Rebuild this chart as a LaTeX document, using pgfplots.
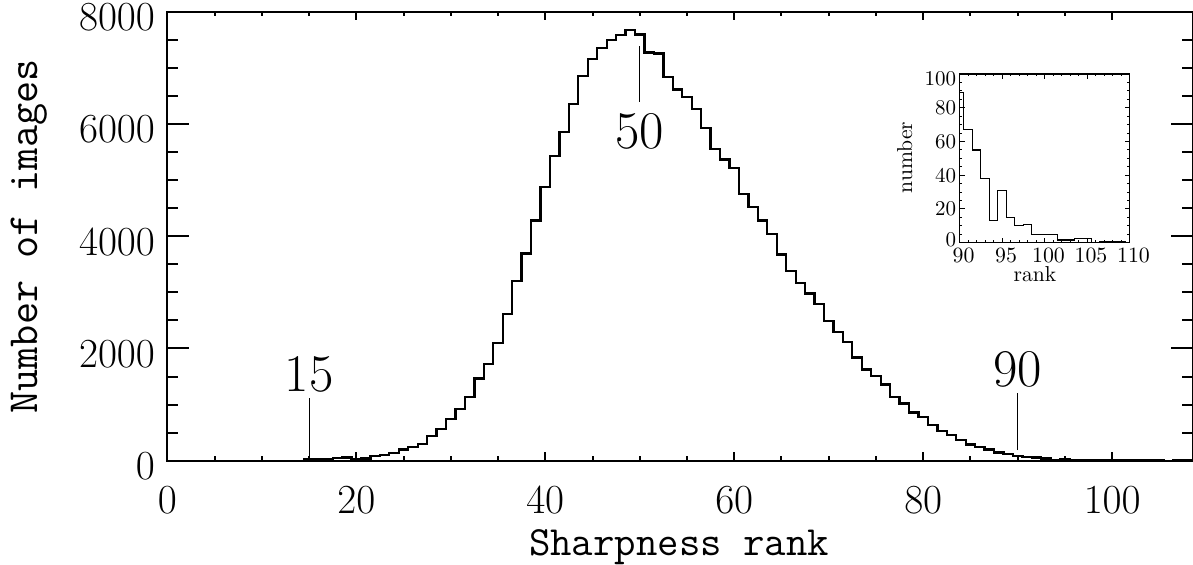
\documentclass[border=0pt]{standalone}
\usepackage{pgfplots}
\pgfplotsset{compat=1.18}

% histogram of sharpness ranks, bins centred on integer ranks
\pgfplotstableread{
rank count
0 0
14 0
15 20
16 25
17 30
18 50
19 55
20 35
21 40
22 83
23 101
24 131
25 202
26 249
27 297
28 445
29 564
30 748
31 915
32 1140
33 1467
34 1722
35 2091
36 2613
37 3201
38 3694
39 4282
40 4876
41 5434
42 5856
43 6355
44 6854
45 7163
46 7358
47 7495
48 7584
49 7673
50 7596
51 7275
52 7257
53 6842
54 6616
55 6485
56 6266
57 5933
58 5559
59 5369
60 5220
61 4751
62 4526
63 4282
64 4039
65 3676
66 3385
67 3171
68 2981
69 2797
70 2494
71 2298
72 2120
73 1841
74 1627
75 1503
76 1360
77 1140
78 1021
79 861
80 784
81 635
82 535
83 457
84 368
85 291
86 249
87 202
88 148
89 119
90 89
91 67
92 55
93 38
94 13
95 31
96 15
97 10
98 11
99 5
100 5
101 5
102 2
103 2
104 2
105 2
106 0
107 1
108 1
109 1
110 0
}\ranks

\pgfplotstableread{
rank count
90 89
91 67
92 55
93 38
94 13
95 31
96 15
97 10
98 11
99 5
100 5
101 5
102 1.6
103 1.6
104 2.4
105 2.4
106 0
107 0.6
108 0.6
109 0.6
110 0
}\tail

\begin{document}
\begin{tikzpicture}
\begin{axis}[
    at={(0,0)}, anchor=south west,
    scale only axis, width=512.6bp, height=224.5bp,
    xmin=0, xmax=108.5, ymin=0, ymax=8000,
    xtick={0,20,...,100}, ytick={0,2000,...,8000},
    minor x tick num=3, minor y tick num=3,
    scaled y ticks=false,
    /pgf/number format/1000 sep={},
    axis line style={line width=1bp},
    every tick/.append style={black, line width=1bp},
    xtick style={/pgfplots/major tick length=4.25bp, /pgfplots/minor tick length=2.25bp},
    ytick style={/pgfplots/major tick length=10.85bp, /pgfplots/minor tick length=5.5bp},
    tick label style={font=\fontsize{20bp}{24bp}\selectfont},
    xticklabel style={inner sep=0pt, yshift=-13bp},
    yticklabel style={inner sep=0pt, xshift=-6bp, yshift=-2.8bp},
]
\addplot[const plot mark mid, black, line width=1.15bp] table[x=rank, y=count] {\ranks};
% marked ranks
\draw[line width=0.5bp] (axis cs:15,60) -- (axis cs:15,1110);
\draw[line width=0.5bp] (axis cs:50,6396) -- (axis cs:50,7388);
\draw[line width=0.5bp] (axis cs:90,190) -- (axis cs:90,1200);
\node[anchor=base, inner sep=0pt, font=\fontsize{26.5bp}{30bp}\selectfont] at (axis cs:15,1229) {15};
\node[anchor=north, inner sep=0pt, font=\fontsize{26.5bp}{30bp}\selectfont] at (axis cs:50,6191) {50};
\node[anchor=base, inner sep=0pt, font=\fontsize{26.5bp}{30bp}\selectfont] at (axis cs:90,1318) {90};
\end{axis}

\node[rotate=90, anchor=base, inner sep=0pt, font=\ttfamily\fontsize{21.5bp}{24bp}\selectfont]
    at (-64.65bp,112.15bp) {Number of images};
\node[anchor=base, inner sep=0pt, font=\ttfamily\fontsize{20.8bp}{24bp}\selectfont]
    at (255.85bp,-47.15bp) {Sharpness rank};

% inset: tail above rank 90
\begin{axis}[
    at={(396.1bp,109bp)}, anchor=south west,
    scale only axis, width=85bp, height=84.35bp,
    xmin=90, xmax=110, ymin=0, ymax=100,
    xtick={90,95,...,110}, ytick={0,20,...,100},
    yticklabels={\raisebox{1.8bp}[\height][0pt]{0},20,40,60,80,\raisebox{-2.5bp}[\height][0pt]{100}},
    minor x tick num=4, minor y tick num=3,
    axis background/.style={fill=white},
    axis line style={line width=0.6bp},
    every tick/.append style={black, line width=0.5bp},
    major tick length=2.5bp, minor tick length=1.2bp,
    tick label style={font=\fontsize{10.5bp}{12bp}\selectfont},
    xticklabel style={inner sep=0pt, yshift=-2.8bp, xshift=2bp},
    yticklabel style={inner sep=0pt, xshift=-1.5bp},
]
\addplot[const plot mark mid, black, line width=0.6bp] table[x=rank, y=count] {\tail};
\end{axis}
\node[anchor=base, inner sep=0pt, font=\fontsize{10.8bp}{12bp}\selectfont] at (433.85bp,89.4bp) {rank};
\node[rotate=90, anchor=base, inner sep=0pt, font=\fontsize{10.8bp}{12bp}\selectfont] at (372.35bp,151.6bp) {number};

\pgfresetboundingbox
\useasboundingbox (-83.65bp,-52.15bp) rectangle (512.85bp,230.35bp);
\end{tikzpicture}
\end{document}
